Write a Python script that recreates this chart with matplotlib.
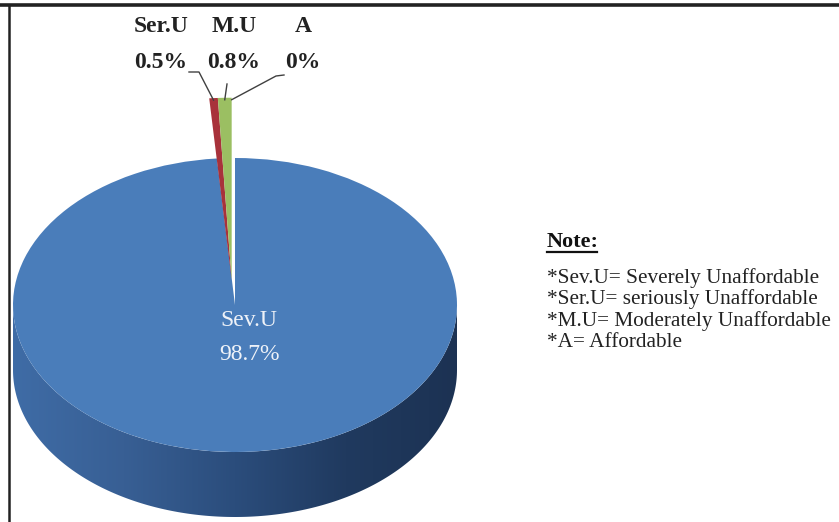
import matplotlib

matplotlib.use("Agg")
import matplotlib.pyplot as plt
import numpy as np
from matplotlib.colors import LinearSegmentedColormap
from matplotlib.patches import Polygon

# chart data
labels = ["Sev.U", "Ser.U", "M.U", "A"]
values = [98.7, 0.5, 0.8, 0.0]
colors = ["#4a7dba", "#a8323b", "#9bbf62", "#c9d77a"]
note_lines = [
    "*Sev.U= Severely Unaffordable",
    "*Ser.U= seriously Unaffordable",
    "*M.U= Moderately Unaffordable",
    "*A= Affordable",
]

W, H = 839, 522
CX, CY = 235, 305      # centre of top face, pixels
RX, RY = 222, 147      # semi axes of top face, pixels
DEPTH = 65             # thickness of the pie, pixels
SERIF = ["Liberation Serif", "DejaVu Serif"]

fig = plt.figure(figsize=(W / 100, H / 100), dpi=100)
ax = fig.add_axes([0, 0, 1, 1])
ov = fig.add_axes([0, 0, 1, 1])
ov.set_facecolor("none")

# side of the cylinder, shaded left to right
d = DEPTH / RY
t = np.linspace(np.pi, 2 * np.pi, 200)
side_xy = np.vstack([
    np.column_stack([np.cos(t), -d + np.sin(t)]),
    np.column_stack([np.cos(t[::-1]), np.sin(t[::-1])]),
])
side = Polygon(side_xy, closed=True, facecolor="none", edgecolor="none")
ax.add_patch(side)
side_cmap = LinearSegmentedColormap.from_list(
    "side", ["#3f6ca6", "#385f94", "#2b4d7c", "#203a5f", "#1c3253"])
grad = np.tile(np.linspace(0, 1, 256), (2, 1))
img = ax.imshow(grad, extent=[-1, 1, -1 - d, 0], cmap=side_cmap, aspect="auto",
                origin="lower", zorder=1)
img.set_clip_path(side)

# top face: only the big slice, small ones lifted out
top_colors = [colors[0]] + ["none"] * (len(values) - 1)
ax.pie(values, colors=top_colors, startangle=90, counterclock=False,
       wedgeprops={"linewidth": 0, "zorder": 2})

# thin slices pulled up out of the pie
small_colors = ["none"] + colors[1:]
small_r = 1.24
small_c = (-0.015, 25 / RY)
wedges, _ = ax.pie(values, colors=small_colors, startangle=90, counterclock=False,
                   radius=small_r, center=small_c,
                   wedgeprops={"linewidth": 0, "zorder": 3})

ax.set_aspect("auto")
ax.set_xlim(-CX / RX, (W - CX) / RX)
ax.set_ylim((CY - H) / RY, CY / RY)
ax.axis("off")

ov.set_xlim(0, W)
ov.set_ylim(H, 0)
ov.axis("off")

# frame lines of the original picture
ov.plot([0, W], [5, 5], color="#222222", lw=2.6, solid_capstyle="butt")
ov.plot([9, 9], [5, H], color="#222222", lw=1.8, solid_capstyle="butt")

# big slice label
ov.text(249, 320, labels[0], ha="center", va="center", color="#eef2f8",
        fontsize=17, family=SERIF)
ov.text(249, 355, f"{values[0]:g}%", ha="center", va="center", color="#eef2f8",
        fontsize=17, family=SERIF)


def wedge_tip(w):
    mid = np.radians((w.theta1 + w.theta2) / 2)
    px = ax.transData.transform((small_c[0] + small_r * np.cos(mid),
                                 small_c[1] + small_r * np.sin(mid)))
    return ov.transData.inverted().transform(px)


# small slice labels with leader lines
label_x = [161, 234, 303]
leader_start = [[(189, 72), (199, 72)], [(227, 84)], [(284, 75), (276, 76)]]
for i, (lab, val, w) in enumerate(zip(labels[1:], values[1:], wedges[1:])):
    x = label_x[i]
    ov.text(x, 26, lab, ha="center", va="center", fontsize=17, fontweight="bold",
            family=SERIF, color="#222222")
    ov.text(x, 62, f"{val:g}%", ha="center", va="center", fontsize=17,
            fontweight="bold", family=SERIF, color="#222222")
    tip = wedge_tip(w)
    pts = leader_start[i] + [(tip[0], tip[1] + 2)]
    ov.plot([p[0] for p in pts], [p[1] for p in pts], color="#404040", lw=1)

# note block
ov.text(547, 242, "Note:", ha="left", va="center", fontsize=16, fontweight="bold",
        family=SERIF, color="#111111")
ov.plot([547, 597], [252, 252], color="#111111", lw=1.6)
for i, line in enumerate(note_lines):
    ov.text(547, 278 + i * 21.5, line, ha="left", va="center", fontsize=15.3,
            family=SERIF, color="#222222")

fig.savefig("out.png", dpi=100)
